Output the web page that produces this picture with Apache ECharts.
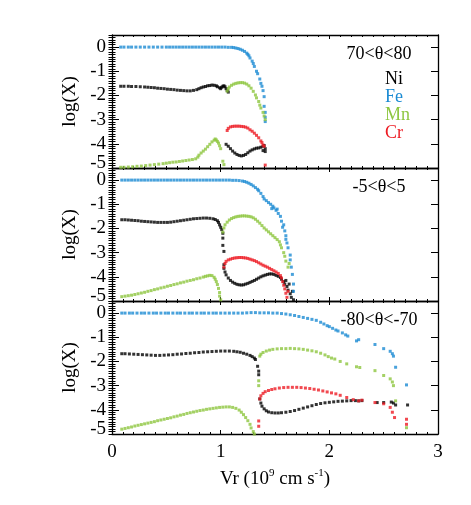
<!DOCTYPE html>
<html>
<head>
<meta charset="utf-8">
<script src="https://cdn.jsdelivr.net/npm/echarts@6/dist/echarts.min.js"></script>
<style>
  html, body { margin: 0; padding: 0; background: #fff; }
  #chart { width: 471px; height: 505px; }
</style>
</head>
<body>
<div id="chart"></div>
<script>
// panel titles and species
const panelLabels = ['70<θ<80', '-5<θ<5', '-80<θ<-70']
const species = ['Ni', 'Fe', 'Mn', 'Cr']
const colors = { Ni: '#000000', Fe: '#1b8bd3', Mn: '#8dc63f', Cr: '#ed1c24' }
const xTicks = [0, 1, 2, 3]
const yTicks = [-5, -4, -3, -2, -1, 0]

// panel 1 : 70<theta<80
const fe1 = [[0.08,0],[0.11,0],[0.15,0],[0.18,0],[0.22,0],[0.26,0],[0.3,0],[0.34,0],[0.38,0],[0.42,0],[0.46,0],[0.5,0],[0.53,0],[0.56,0],[0.59,0],[0.62,0],[0.65,0],[0.68,0],[0.71,0],[0.74,0],[0.77,0],[0.8,0],[0.83,0],[0.86,0],[0.89,0],[0.92,0],[0.95,0],[0.98,0],[1.01,0],[1.04,0],[1.07,-0.01],[1.1,-0.01],[1.12,-0.02],[1.14,-0.04],[1.16,-0.06],[1.18,-0.09],[1.2,-0.13],[1.22,-0.18],[1.24,-0.25],[1.25,-0.3],[1.26,-0.36],[1.27,-0.45],[1.29,-0.58],[1.3,-0.68],[1.31,-0.8],[1.33,-1.0],[1.34,-1.1],[1.36,-1.32],[1.37,-1.5],[1.38,-1.62],[1.39,-1.8],[1.4,-2.05],[1.4,-2.45],[1.41,-2.7],[1.41,-2.9],[1.41,-3.08]]
const ni1 = [[0.08,-1.62],[0.11,-1.62],[0.15,-1.62],[0.18,-1.63],[0.22,-1.63],[0.26,-1.64],[0.3,-1.65],[0.33,-1.66],[0.36,-1.67],[0.39,-1.68],[0.42,-1.7],[0.45,-1.71],[0.48,-1.72],[0.51,-1.74],[0.54,-1.75],[0.57,-1.76],[0.6,-1.78],[0.63,-1.79],[0.66,-1.8],[0.69,-1.81],[0.72,-1.81],[0.75,-1.79],[0.78,-1.76],[0.8,-1.72],[0.82,-1.68],[0.84,-1.65],[0.86,-1.63],[0.88,-1.6],[0.9,-1.59],[0.92,-1.57],[0.94,-1.58],[0.96,-1.6],[0.97,-1.64],[0.99,-1.68],[1.0,-1.72],[1.01,-1.66],[1.02,-1.62],[1.03,-1.6],[1.04,-1.64],[1.05,-1.72],[1.06,-1.8],[1.07,-1.86],
  [1.05,-4.02],[1.07,-4.1],[1.09,-4.2],[1.11,-4.3],[1.13,-4.38],[1.15,-4.44],[1.17,-4.48],[1.19,-4.5],[1.21,-4.48],[1.23,-4.44],[1.25,-4.37],[1.27,-4.3],[1.29,-4.25],[1.31,-4.21],[1.33,-4.18],[1.35,-4.17],[1.37,-4.14],[1.39,-4.1],[1.4,-4.07],[1.41,-4.2],[1.41,-4.32],[1.39,-4.28]]
const mn1 = [[0.08,-4.97],[0.11,-4.97],[0.15,-4.96],[0.19,-4.95],[0.23,-4.93],[0.27,-4.92],[0.31,-4.9],[0.35,-4.88],[0.39,-4.86],[0.43,-4.84],[0.47,-4.82],[0.5,-4.8],[0.53,-4.78],[0.56,-4.76],[0.59,-4.75],[0.62,-4.73],[0.65,-4.71],[0.68,-4.69],[0.71,-4.67],[0.74,-4.65],[0.77,-4.62],[0.79,-4.55],[0.8,-4.47],[0.82,-4.38],[0.84,-4.3],[0.86,-4.22],[0.88,-4.12],[0.9,-4.02],[0.92,-3.92],[0.94,-3.85],[0.95,-3.8],[0.96,-3.84],[0.97,-3.9],[0.98,-3.97],[0.99,-4.08],[1.0,-4.2],[1.02,-4.72],[1.03,-4.86],
  [1.06,-1.82],[1.07,-1.72],[1.08,-1.65],[1.1,-1.58],[1.12,-1.53],[1.14,-1.5],[1.16,-1.48],[1.18,-1.47],[1.2,-1.47],[1.22,-1.49],[1.24,-1.53],[1.26,-1.6],[1.28,-1.7],[1.3,-1.83],[1.32,-1.98],[1.33,-2.1],[1.35,-2.25],[1.36,-2.4],[1.37,-2.52],[1.39,-2.7],[1.4,-2.85],[1.41,-3.0]]
const cr1 = [[1.06,-3.45],[1.07,-3.36],[1.09,-3.3],[1.11,-3.28],[1.13,-3.27],[1.15,-3.27],[1.17,-3.27],[1.19,-3.28],[1.21,-3.29],[1.23,-3.31],[1.25,-3.35],[1.27,-3.42],[1.29,-3.48],[1.31,-3.56],[1.33,-3.65],[1.35,-3.75],[1.37,-3.88],[1.38,-3.95],[1.39,-4.05],[1.4,-4.1],[1.41,-4.88]]

// panel 2 : -5<theta<5
const fe2 = [[0.09,0],[0.12,0],[0.15,0],[0.18,0],[0.21,0],[0.24,0],[0.27,0],[0.3,0],[0.33,0],[0.36,0],[0.39,0],[0.42,0],[0.45,0],[0.48,0],[0.51,0],[0.54,0],[0.57,0],[0.6,0],[0.63,0],[0.66,0],[0.69,0],[0.72,0],[0.75,0],[0.78,0],[0.81,0],[0.84,0],[0.87,0],[0.9,0],[0.93,0],[0.96,0],[0.99,0],[1.02,0],[1.05,0],[1.08,0],[1.11,-0.01],[1.14,-0.01],[1.17,-0.02],[1.2,-0.04],[1.22,-0.06],[1.24,-0.09],[1.26,-0.13],[1.28,-0.18],[1.3,-0.24],[1.32,-0.31],[1.34,-0.38],[1.35,-0.44],[1.37,-0.55],[1.39,-0.68],[1.4,-0.78],[1.42,-0.85],[1.44,-0.93],[1.46,-1.0],[1.48,-1.08],[1.49,-1.15],[1.51,-1.25],[1.53,-1.38],[1.55,-1.5],[1.56,-1.7],[1.58,-1.85],[1.59,-2.1],[1.6,-2.3],[1.61,-2.6],[1.62,-2.8],[1.64,-3.1],[1.64,-3.3],[1.65,-3.6],[1.66,-3.9],[1.67,-4.3],[1.67,-4.6],[1.47,-1.18],[1.52,-1.2],[1.57,-1.95],[1.6,-2.45]]
const ni2 = [[0.09,-1.64],[0.12,-1.64],[0.15,-1.65],[0.18,-1.66],[0.21,-1.67],[0.24,-1.68],[0.27,-1.7],[0.3,-1.71],[0.33,-1.72],[0.36,-1.73],[0.39,-1.74],[0.42,-1.75],[0.45,-1.75],[0.48,-1.75],[0.51,-1.75],[0.54,-1.74],[0.57,-1.72],[0.6,-1.7],[0.63,-1.68],[0.66,-1.66],[0.69,-1.64],[0.72,-1.62],[0.75,-1.6],[0.78,-1.59],[0.81,-1.58],[0.84,-1.57],[0.87,-1.57],[0.9,-1.58],[0.93,-1.6],[0.95,-1.63],[0.97,-1.68],[0.98,-1.75],[0.99,-1.85],[1.0,-1.95],[1.01,-2.05],[1.02,-2.2],[1.02,-2.4],[1.02,-2.7],[1.03,-2.95],[1.03,-3.5],[1.03,-3.65],
  [1.04,-3.8],[1.05,-3.92],[1.07,-4.05],[1.09,-4.15],[1.11,-4.22],[1.13,-4.27],[1.15,-4.31],[1.17,-4.33],[1.19,-4.34],[1.21,-4.33],[1.23,-4.3],[1.25,-4.27],[1.27,-4.23],[1.29,-4.19],[1.31,-4.15],[1.33,-4.1],[1.35,-4.05],[1.37,-4.0],[1.39,-3.96],[1.41,-3.93],[1.43,-3.9],[1.45,-3.88],[1.47,-3.88],[1.49,-3.9],[1.51,-3.94],[1.53,-3.98],[1.55,-4.03],[1.56,-4.1],[1.58,-4.2],[1.59,-4.3],[1.6,-4.15],[1.61,-4.4],[1.62,-4.55],[1.63,-4.3],[1.64,-4.7],[1.65,-4.85],[1.66,-4.6],[1.67,-4.95]]
const mn2 = [[0.09,-4.82],[0.12,-4.8],[0.15,-4.78],[0.18,-4.76],[0.21,-4.73],[0.24,-4.7],[0.27,-4.67],[0.3,-4.64],[0.33,-4.6],[0.36,-4.57],[0.39,-4.53],[0.42,-4.5],[0.45,-4.46],[0.48,-4.43],[0.51,-4.39],[0.54,-4.36],[0.57,-4.32],[0.6,-4.29],[0.63,-4.25],[0.66,-4.22],[0.69,-4.18],[0.72,-4.15],[0.75,-4.12],[0.78,-4.08],[0.81,-4.05],[0.84,-4.01],[0.86,-3.98],[0.88,-3.96],[0.9,-3.94],[0.92,-3.95],[0.94,-4.02],[0.95,-4.1],[0.96,-4.2],[0.97,-4.32],[0.98,-4.48],[0.99,-4.65],[0.99,-4.8],[1.0,-4.95],
  [1.02,-2.15],[1.03,-1.98],[1.04,-1.85],[1.06,-1.74],[1.08,-1.65],[1.1,-1.59],[1.12,-1.55],[1.14,-1.52],[1.16,-1.5],[1.18,-1.49],[1.2,-1.48],[1.22,-1.48],[1.24,-1.49],[1.26,-1.5],[1.28,-1.52],[1.3,-1.56],[1.32,-1.62],[1.34,-1.7],[1.36,-1.78],[1.38,-1.88],[1.4,-1.98],[1.42,-2.06],[1.44,-2.14],[1.46,-2.22],[1.48,-2.3],[1.5,-2.38],[1.52,-2.46],[1.54,-2.55],[1.55,-2.68],[1.56,-2.8],[1.58,-3.0],[1.59,-3.15],[1.6,-3.35],[1.62,-3.6],[1.63,-3.45]]
const cr2 = [[1.03,-3.6],[1.04,-3.45],[1.05,-3.36],[1.07,-3.3],[1.09,-3.27],[1.11,-3.24],[1.13,-3.22],[1.15,-3.21],[1.17,-3.2],[1.19,-3.2],[1.21,-3.21],[1.23,-3.22],[1.25,-3.24],[1.27,-3.27],[1.29,-3.3],[1.31,-3.33],[1.33,-3.37],[1.35,-3.42],[1.37,-3.47],[1.39,-3.52],[1.41,-3.56],[1.43,-3.6],[1.45,-3.65],[1.47,-3.7],[1.49,-3.75],[1.51,-3.8],[1.53,-3.86],[1.55,-3.95],[1.56,-4.05],[1.57,-4.2],[1.58,-4.35],[1.59,-4.5],[1.6,-4.68],[1.61,-4.85],[1.62,-4.6]]

// panel 3 : -80<theta<-70
const fe3 = [[0.09,0],[0.12,0],[0.16,0],[0.19,0],[0.23,0],[0.27,0],[0.3,0],[0.34,0],[0.38,0],[0.41,0],[0.45,0],[0.49,0],[0.52,0],[0.56,0],[0.6,0],[0.63,0],[0.67,0],[0.71,0],[0.74,0],[0.78,0],[0.82,0],[0.85,0],[0.89,0],[0.93,0],[0.96,0],[1.0,0],[1.04,0],[1.08,0],[1.12,0],[1.16,0],[1.2,0],[1.24,0.01],[1.28,0.02],[1.32,0.02],[1.36,0.01],[1.4,0.01],[1.44,0.01],[1.48,0],[1.52,0],[1.56,-0.02],[1.6,-0.04],[1.64,-0.07],[1.68,-0.1],[1.72,-0.14],[1.76,-0.18],[1.8,-0.22],[1.84,-0.26],[1.88,-0.3],[1.92,-0.38],[1.95,-0.45],[1.98,-0.52],[2.0,-0.56],[2.03,-0.63],[2.06,-0.7],[2.08,-0.74],[2.12,-0.82],[2.15,-0.9],[2.17,-0.95],[2.25,-1.15],[2.27,-1.1],[2.42,-1.3],[2.5,-1.47],[2.56,-1.58],[2.58,-1.68],[2.59,-1.78],[2.61,-2.24],[2.71,-2.97]]
const ni3 = [[0.09,-1.68],[0.12,-1.68],[0.16,-1.69],[0.2,-1.7],[0.24,-1.71],[0.28,-1.72],[0.32,-1.73],[0.36,-1.74],[0.4,-1.75],[0.44,-1.75],[0.48,-1.74],[0.52,-1.73],[0.56,-1.72],[0.6,-1.7],[0.64,-1.69],[0.68,-1.67],[0.72,-1.66],[0.76,-1.64],[0.8,-1.63],[0.84,-1.61],[0.88,-1.6],[0.92,-1.59],[0.96,-1.58],[1.0,-1.57],[1.04,-1.57],[1.08,-1.57],[1.12,-1.58],[1.15,-1.6],[1.18,-1.62],[1.21,-1.66],[1.24,-1.7],[1.27,-1.75],[1.29,-1.8],[1.31,-1.86],[1.32,-1.92],[1.34,-2.2],[1.35,-2.4],[1.35,-2.55],
  [1.36,-3.55],[1.37,-3.72],[1.38,-3.85],[1.4,-3.96],[1.42,-4.04],[1.44,-4.09],[1.47,-4.12],[1.5,-4.13],[1.53,-4.13],[1.56,-4.12],[1.6,-4.1],[1.64,-4.07],[1.68,-4.03],[1.72,-3.98],[1.76,-3.93],[1.8,-3.88],[1.84,-3.83],[1.88,-3.78],[1.92,-3.74],[1.96,-3.71],[2.0,-3.69],[2.04,-3.67],[2.08,-3.65],[2.12,-3.64],[2.16,-3.63],[2.2,-3.62],[2.24,-3.62],[2.27,-3.63],[2.3,-3.62],[2.44,-3.7],[2.5,-3.7],[2.57,-3.68],[2.59,-3.72],[2.61,-3.8],[2.72,-3.8]]
const mn3 = [[0.09,-4.8],[0.12,-4.77],[0.15,-4.74],[0.18,-4.71],[0.21,-4.67],[0.24,-4.64],[0.27,-4.61],[0.3,-4.58],[0.33,-4.55],[0.36,-4.52],[0.39,-4.49],[0.42,-4.45],[0.45,-4.42],[0.48,-4.39],[0.51,-4.36],[0.54,-4.33],[0.57,-4.29],[0.6,-4.26],[0.63,-4.22],[0.66,-4.19],[0.69,-4.15],[0.72,-4.12],[0.75,-4.09],[0.78,-4.06],[0.81,-4.03],[0.84,-4.01],[0.87,-3.98],[0.9,-3.96],[0.93,-3.94],[0.96,-3.92],[0.99,-3.9],[1.02,-3.89],[1.05,-3.88],[1.08,-3.88],[1.11,-3.9],[1.14,-3.94],[1.17,-4.01],[1.19,-4.1],[1.21,-4.2],[1.23,-4.32],[1.25,-4.45],[1.27,-4.6],[1.28,-4.75],[1.3,-4.9],[1.31,-5.0],
  [1.35,-3.0],[1.35,-2.8],[1.36,-1.78],[1.37,-1.7],[1.39,-1.63],[1.42,-1.57],[1.45,-1.53],[1.48,-1.5],[1.52,-1.48],[1.56,-1.47],[1.6,-1.47],[1.64,-1.46],[1.68,-1.47],[1.72,-1.48],[1.76,-1.5],[1.8,-1.53],[1.84,-1.56],[1.88,-1.6],[1.92,-1.66],[1.96,-1.73],[1.99,-1.8],[2.02,-1.86],[2.05,-1.9],[2.1,-2.0],[2.16,-2.1],[2.25,-2.22],[2.28,-2.25],[2.42,-2.38],[2.5,-2.58],[2.56,-2.72],[2.58,-2.85],[2.59,-3.0],[2.61,-3.63],[2.71,-4.74]]
const cr3 = [[1.35,-4.46],[1.35,-4.68],[1.36,-3.55],[1.37,-3.42],[1.39,-3.32],[1.41,-3.25],[1.44,-3.2],[1.47,-3.16],[1.5,-3.13],[1.54,-3.1],[1.58,-3.08],[1.62,-3.07],[1.66,-3.07],[1.7,-3.07],[1.74,-3.08],[1.78,-3.1],[1.82,-3.12],[1.86,-3.15],[1.9,-3.18],[1.94,-3.22],[1.98,-3.26],[2.02,-3.3],[2.06,-3.34],[2.1,-3.4],[2.16,-3.49],[2.22,-3.58],[2.27,-3.63],[2.3,-3.6],[2.42,-3.7],[2.5,-3.75],[2.56,-3.9],[2.58,-4.1],[2.6,-4.32],[2.71,-4.39],[2.71,-4.6]]

const panels = [
  { Fe: fe1, Ni: ni1, Mn: mn1, Cr: cr1 },
  { Fe: fe2, Ni: ni2, Mn: mn2, Cr: cr2 },
  { Fe: fe3, Ni: ni3, Mn: mn3, Cr: cr3 }
]

const FONT = 'Liberation Serif'
const gridTops = [35, 168, 301]
const gridH = 133

const chart = echarts.init(document.getElementById('chart'), null, { renderer: 'canvas' })

const grid = []
const xAxis = []
const yAxis = []
const series = []

gridTops.forEach(function (top, g) {
  grid.push({ left: 112, right: 33, top: top, height: gridH })
  const last = g === gridTops.length - 1
  // bottom and top x axes
  ;['bottom', 'top'].forEach(function (pos) {
    const labels = last && pos === 'bottom'
    xAxis.push({
      type: 'value', gridIndex: g, position: pos,
      min: xTicks[0], max: xTicks[xTicks.length - 1], interval: 1,
      axisLine: { show: true, onZero: false, lineStyle: { color: '#000', width: 1.3 } },
      axisTick: { show: true, inside: true, length: 4, lineStyle: { color: '#000' } },
      minorTick: { show: true, splitNumber: 10, length: 2, lineStyle: { color: '#000' } },
      splitLine: { show: false },
      axisLabel: { show: labels, margin: 9, color: '#000', fontFamily: FONT, fontSize: 19 },
      name: labels ? 'Vr (10{s|9} cm s{s|-1})' : '',
      nameLocation: 'middle', nameGap: 34,
      nameTextStyle: {
        color: '#000', fontFamily: FONT, fontSize: 19, lineHeight: 22,
        rich: { s: { fontFamily: FONT, fontSize: 11, lineHeight: 22, verticalAlign: 'top', color: '#000' } }
      }
    })
  })
  // left/right y axes: major (labels) + minor (0.1 steps)
  ;['left', 'right'].forEach(function (pos) {
    yAxis.push({
      type: 'value', gridIndex: g, position: pos,
      min: yTicks[0], max: 0.5, interval: 1,
      axisLine: { show: true, onZero: false, lineStyle: { color: '#000', width: 1.3 } },
      axisTick: { show: true, inside: true, length: 7, lineStyle: { color: '#000' } },
      splitLine: { show: false },
      axisLabel: {
        show: pos === 'left', margin: 6, color: '#000', fontFamily: FONT, fontSize: 19,
        formatter: function (v) {
          if (yTicks.indexOf(v) < 0) return ''
          return v === yTicks[0] ? '{lo|' + v + '}' : String(v)
        },
        rich: { lo: { fontFamily: FONT, fontSize: 19, color: '#000', padding: [0, 0, 9, 0] } }
      },
      name: pos === 'left' ? 'log(X)' : '',
      nameLocation: 'middle', nameGap: 32, nameRotate: 90,
      nameTextStyle: { color: '#000', fontFamily: FONT, fontSize: 19 }
    })
    yAxis.push({
      type: 'value', gridIndex: g, position: pos,
      min: yTicks[0], max: 0.5, interval: 0.1,
      axisLine: { show: false },
      axisTick: { show: true, inside: true, length: 3.5, lineStyle: { color: '#000' } },
      splitLine: { show: false },
      axisLabel: { show: false }
    })
  })
  species.forEach(function (sp) {
    series.push({
      type: 'scatter', name: sp,
      xAxisIndex: 2 * g, yAxisIndex: 4 * g,
      data: panels[g][sp],
      symbol: 'rect', symbolSize: 3,
      itemStyle: { color: colors[sp] },
      silent: true
    })
  })
})

const textFont = '18px "' + FONT + '"'
const graphic = []
const labelY = [54, 187, 320]
panelLabels.forEach(function (t, i) {
  graphic.push({ type: 'text', x: 379, y: labelY[i],
    style: { text: t, font: textFont, fill: '#000', align: 'center', verticalAlign: 'middle' } })
})
const legendY = [79, 97, 115, 133]
species.forEach(function (sp, i) {
  graphic.push({ type: 'text', x: 385, y: legendY[i],
    style: { text: sp, font: textFont, fill: colors[sp], align: 'left', verticalAlign: 'middle' } })
})

chart.setOption({
  backgroundColor: '#fff',
  animation: false,
  grid: grid,
  xAxis: xAxis,
  yAxis: yAxis,
  series: series,
  graphic: graphic
})
</script>
</body>
</html>
